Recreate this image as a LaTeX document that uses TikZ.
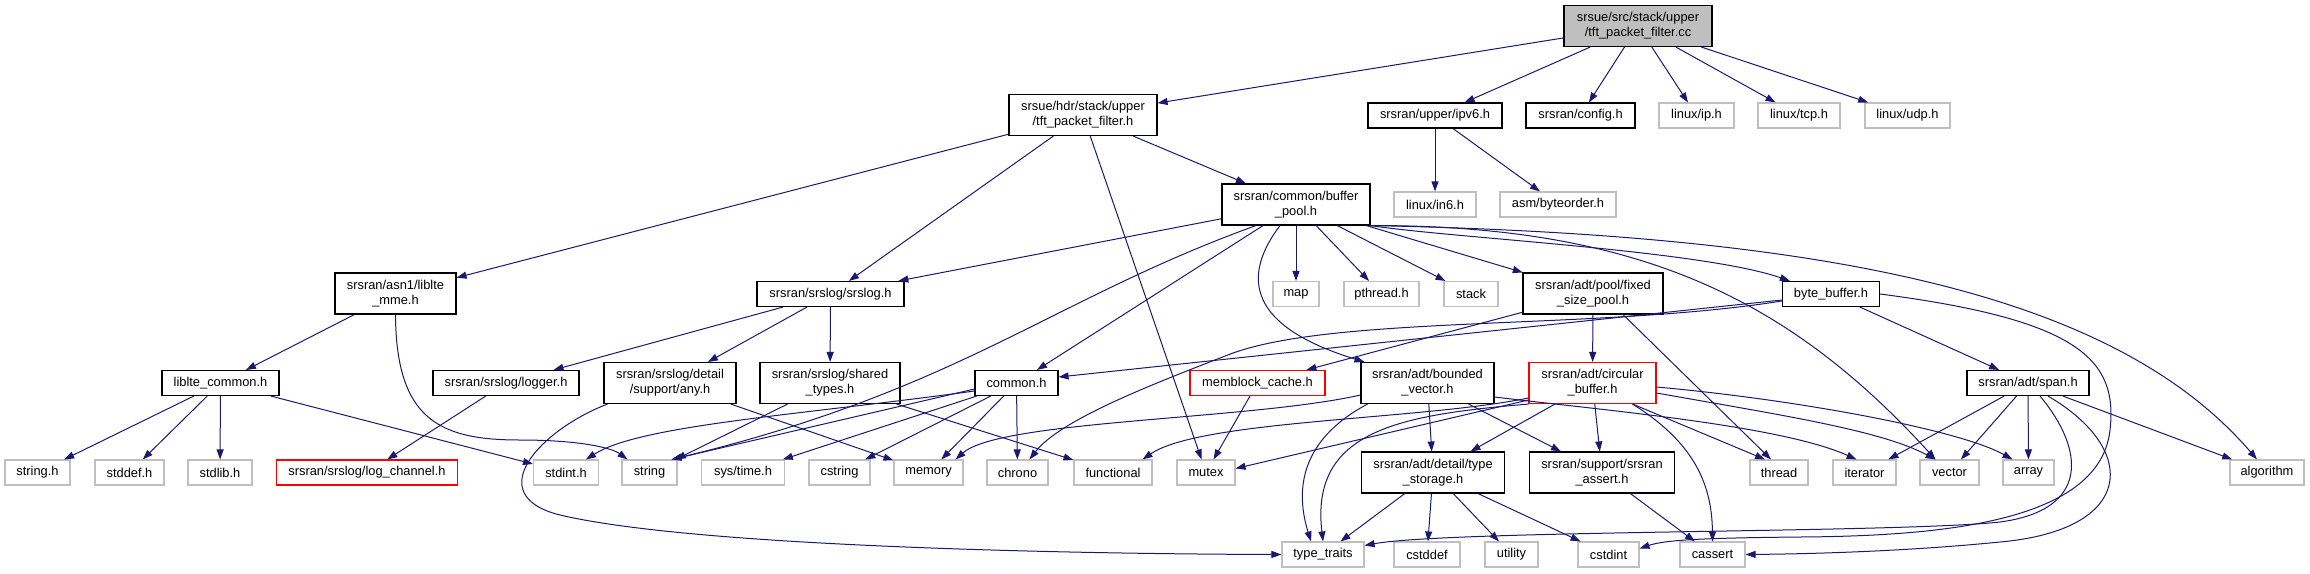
\documentclass[tikz,border=0pt]{standalone}
\usepackage{fontspec}
\setmainfont{Liberation Sans}
\usepackage{tikz}
\usetikzlibrary{arrows.meta}
\definecolor{edgeblue}{HTML}{191970}
\definecolor{extgrey}{HTML}{BFBFBF}
\tikzset{
  hdr/.style={draw=black,line width=1.1pt,align=center,inner sep=1pt,minimum height=25pt,font=\fontsize{12.85}{15}\selectfont},
  sysh/.style={hdr,draw=extgrey},
  trunc/.style={hdr,draw=red},
  srcfile/.style={hdr,fill=extgrey},
  twoline/.style={minimum height=41pt},
  arr/.style={-{Triangle[length=10pt,width=7pt]},draw=edgeblue,line width=1pt}
}
\begin{document}
\begin{tikzpicture}[x=1pt,y=-1pt]
\useasboundingbox (0,0) rectangle (2310,573);
% top rows
\node[srcfile,twoline,minimum width=148pt] (root) at (1638,26) {srsue/src/stack/upper\\/tft\_packet\_filter.cc};
\node[hdr,twoline,minimum width=148pt] (tfth) at (1083,115) {srsue/hdr/stack/upper\\/tft\_packet\_filter.h};
\node[hdr,minimum width=134pt] (ipvsix) at (1435,115.5) {srsran/upper/ipv6.h};
\node[hdr,minimum width=109pt] (config) at (1580.5,115.5) {srsran/config.h};
\node[sysh,minimum width=75pt] (linuxip) at (1696.5,115.5) {linux/ip.h};
\node[sysh,minimum width=82pt] (linuxtcp) at (1799,115.5) {linux/tcp.h};
\node[sysh,minimum width=85pt] (linuxudp) at (1907.5,115.5) {linux/udp.h};
\node[sysh,minimum width=82pt] (linuxinsix) at (1435,204.5) {linux/in6.h};
\node[sysh,minimum width=116pt] (byteorder) at (1558,204.5) {asm/byteorder.h};
\node[hdr,twoline,minimum width=148pt] (bufpool) at (1296,204.5) {srsran/common/buffer\\\_pool.h};

\node[hdr,twoline,minimum width=121pt] (lteasn) at (395.5,293.5) {srsran/asn1/liblte\\\_mme.h};
\node[hdr,minimum width=147pt] (srslog) at (830.5,294) {srsran/srslog/srslog.h};
\node[sysh,minimum width=46pt] (map) at (1296,294) {map};
\node[sysh,minimum width=75pt] (pthread) at (1381.5,294) {pthread.h};
\node[sysh,minimum width=54pt] (stack) at (1471,294) {stack};
\node[hdr,twoline,minimum width=140pt] (fixpool) at (1593,293.5) {srsran/adt/pool/fixed\\\_size\_pool.h};
\node[hdr,minimum width=97pt] (bytebuf) at (1831,294) {byte\_buffer.h};

\node[hdr,minimum width=117pt] (ltecommon) at (220.5,383) {liblte\_common.h};
\node[hdr,minimum width=146pt] (logger) at (506,383) {srsran/srslog/logger.h};
\node[hdr,twoline,minimum width=132pt] (anyh) at (670,383) {srsran/srslog/detail\\/support/any.h};
\node[hdr,twoline,minimum width=140pt] (sharedtypes) at (830,383) {srsran/srslog/shared\\\_types.h};
\node[hdr,minimum width=83pt] (commonh) at (1016.5,383) {common.h};
\node[trunc,minimum width=135pt] (memblock) at (1257.5,383) {memblock\_cache.h};
\node[hdr,twoline,minimum width=133pt] (boundvec) at (1427.5,383) {srsran/adt/bounded\\\_vector.h};
\node[trunc,twoline,minimum width=127pt] (circbuf) at (1592.5,383) {srsran/adt/circular\\\_buffer.h};
\node[hdr,minimum width=122pt] (span) at (2028,383) {srsran/adt/span.h};

% system headers
\node[sysh,minimum width=65pt] (stringh) at (37.5,472.5) {string.h};
\node[sysh,minimum width=69pt] (stddefh) at (129.5,472.5) {stddef.h};
\node[sysh,minimum width=64pt] (stdlibh) at (220,472.5) {stdlib.h};
\node[trunc,minimum width=181pt] (logchan) at (367,472.5) {srsran/srslog/log\_channel.h};
\node[sysh,minimum width=65pt] (stdinth) at (566,472.5) {stdint.h};
\node[sysh,minimum width=55pt] (string) at (649.5,472.5) {string};
\node[sysh,minimum width=83pt] (systime) at (743,472.5) {sys/time.h};
\node[sysh,minimum width=61pt] (cstring) at (839.5,472.5) {cstring};
\node[sysh,minimum width=69pt] (memory) at (928.5,472.5) {memory};
\node[sysh,minimum width=61pt] (chrono) at (1017.5,472.5) {chrono};
\node[sysh,minimum width=78pt] (functional) at (1113,472.5) {functional};
\node[sysh,minimum width=58pt] (mutex) at (1206,472.5) {mutex};
\node[hdr,twoline,minimum width=143pt] (typestore) at (1433,472.5) {srsran/adt/detail/type\\\_storage.h};
\node[hdr,twoline,minimum width=145pt] (srsassert) at (1602,472.5) {srsran/support/srsran\\\_assert.h};
\node[sysh,minimum width=58pt] (thread) at (1779,472.5) {thread};
\node[sysh,minimum width=63pt] (iterator) at (1864.5,472.5) {iterator};
\node[sysh,minimum width=59pt] (vector) at (1949.5,472.5) {vector};
\node[sysh,minimum width=51pt] (array) at (2028.5,472.5) {array};
\node[sysh,minimum width=74pt] (algorithm) at (2267,472.5) {algorithm};

\node[sysh,minimum width=82pt] (typetraits) at (1323,554.5) {type\_traits};
\node[sysh,minimum width=66pt] (cstddef) at (1427,554.5) {cstddef};
\node[sysh,minimum width=53pt] (utility) at (1511.5,554.5) {utility};
\node[sysh,minimum width=61pt] (cstdint) at (1608.5,554.5) {cstdint};
\node[sysh,minimum width=65pt] (cassert) at (1712.5,554.5) {cassert};

% edges
\draw[arr] (root) -- (tfth);
\draw[arr] (root) -- (ipvsix);
\draw[arr] (root) -- (config);
\draw[arr] (root) -- (linuxip);
\draw[arr] (root) -- (linuxtcp);
\draw[arr] (root) -- (linuxudp);

\draw[arr] (tfth) -- (lteasn);
\draw[arr] (tfth) -- (srslog);
\draw[arr] (tfth) -- (mutex);
\draw[arr] (tfth) -- (bufpool);

\draw[arr] (ipvsix) -- (linuxinsix);
\draw[arr] (ipvsix) -- (byteorder);

\draw[arr] (bufpool) -- (srslog);
\draw[arr] ([xshift=-40pt]bufpool.south) .. controls (1050,300) and (960,390) .. ([xshift=-6pt]string.north east);
\draw[arr] (bufpool) -- (commonh);
\draw[arr] ([xshift=-16pt]bufpool.south) .. controls (1235,285) and (1260,330) .. ([xshift=4pt]boundvec.north west);
\draw[arr] (bufpool) -- (map);
\draw[arr] (bufpool) -- (pthread);
\draw[arr] (bufpool) -- (stack);
\draw[arr] (bufpool) -- (fixpool);
\draw[arr] (bufpool.south east) .. controls (1450,238) and (1700,250) .. ([xshift=8pt]bytebuf.north west);
\draw[arr] (bufpool.south east) .. controls (1640,225) and (1790,300) .. ([xshift=-14pt]vector.north);
\draw[arr] (bufpool.south east) .. controls (1850,235) and (2120,300) .. ([xshift=-10pt]algorithm.north);

\draw[arr] (lteasn) -- (ltecommon);
\draw[arr] (lteasn.south) .. controls (396,420) and (440,440) .. (520,440) .. controls (580,440) and (612,448) .. ([xshift=6pt]string.north west);

\draw[arr] (srslog) -- (logger);
\draw[arr] (srslog) -- (anyh);
\draw[arr] (srslog) -- (sharedtypes);

\draw[arr] (ltecommon) -- (stringh);
\draw[arr] (ltecommon) -- (stddefh);
\draw[arr] (ltecommon) -- (stdlibh);
\draw[arr] (ltecommon) -- (stdinth);

\draw[arr] (logger) -- (logchan);

\draw[arr] ([xshift=4pt]anyh.south west) .. controls (540,430) and (480,495) .. (560,515) .. controls (700,548) and (1100,554) .. (typetraits.west);
\draw[arr] (anyh) -- (memory);

\draw[arr] (sharedtypes) -- (string);
\draw[arr] (sharedtypes) -- (functional);

\draw[arr] ([yshift=-8pt]commonh.west) .. controls (800,415) and (640,425) .. ([xshift=20pt]stdinth.north);
\draw[arr] ([yshift=-6pt]commonh.west) -- ([xshift=-6pt]string.north east);
\draw[arr] (commonh) -- (systime);
\draw[arr] (commonh) -- (cstring);
\draw[arr] (commonh) -- (memory);
\draw[arr] (commonh) -- (chrono);

\draw[arr] (fixpool) -- (memblock);
\draw[arr] (fixpool) -- (circbuf);
\draw[arr] ([xshift=30pt]fixpool.south) -- ([xshift=-8pt]thread.north);

\draw[arr] (bytebuf) -- (span);
\draw[arr] ([yshift=-6pt]bytebuf.west) -- ([yshift=6pt]commonh.east);
\draw[arr] ([yshift=-7pt]bytebuf.west) .. controls (1600,330) and (1340,315) .. (1233,353) .. controls (1150,385) and (1060,420) .. ([xshift=12pt]chrono.north);
\draw[arr] (bytebuf.east) .. controls (2080,320) and (2118,360) .. (2110,430) .. controls (2100,520) and (1950,536) .. (1800,537) .. controls (1700,538) and (1665,540) .. ([yshift=6pt]cstdint.east);

\draw[arr] (memblock) -- (mutex);

\draw[arr] (boundvec) -- (typestore);
\draw[arr] (boundvec) -- (srsassert);
\draw[arr] ([yshift=-12pt]boundvec.west) .. controls (1250,420) and (1000,420) .. ([xshift=-8pt]memory.north east);
\draw[arr] ([yshift=-14pt]boundvec.east) .. controls (1600,410) and (1780,425) .. ([xshift=-8pt]iterator.north);
\draw[arr] ([xshift=-60pt]boundvec.south) .. controls (1300,440) and (1295,490) .. ([xshift=-12pt]typetraits.north);

\draw[arr] (circbuf) -- (typestore);
\draw[arr] (circbuf) -- (srsassert);
\draw[arr] ([xshift=-24pt]circbuf.south east) -- ([xshift=-14pt]thread.north);
\draw[arr] ([yshift=-10pt]circbuf.east) .. controls (1780,415) and (1880,430) .. ([xshift=-14pt]vector.north);
\draw[arr] ([yshift=-4pt]circbuf.east) .. controls (1800,400) and (1960,430) .. ([xshift=-16pt]array.north);
\draw[arr] ([xshift=40pt]circbuf.south) .. controls (1690,440) and (1712,480) .. (cassert.north);
\draw[arr] (circbuf.south west) .. controls (1400,415) and (1310,430) .. (typetraits.north);
\draw[arr] ([yshift=-15pt]circbuf.west) .. controls (1420,420) and (1200,420) .. ([xshift=-10pt]functional.north east);
\draw[arr] ([yshift=-17pt]circbuf.west) -- ([yshift=4pt]mutex.east);

\draw[arr] (span) -- (iterator);
\draw[arr] (span) -- (vector);
\draw[arr] (span) -- (array);
\draw[arr] (span) -- (algorithm);
\draw[arr] ([xshift=12pt]span.south) .. controls (2085,450) and (2090,510) .. (2000,522) .. controls (1900,533) and (1450,530) .. ([yshift=-4pt]typetraits.north east);
\draw[arr] ([xshift=20pt]span.south) .. controls (2140,450) and (2135,530) .. (2000,542) .. controls (1900,552) and (1800,554) .. (cassert.east);

\draw[arr] (typestore) -- (typetraits);
\draw[arr] (typestore) -- (cstddef);
\draw[arr] (typestore) -- (utility);
\draw[arr] (typestore) -- (cstdint);

\draw[arr] (srsassert) -- (cassert);
\end{tikzpicture}
\end{document}
